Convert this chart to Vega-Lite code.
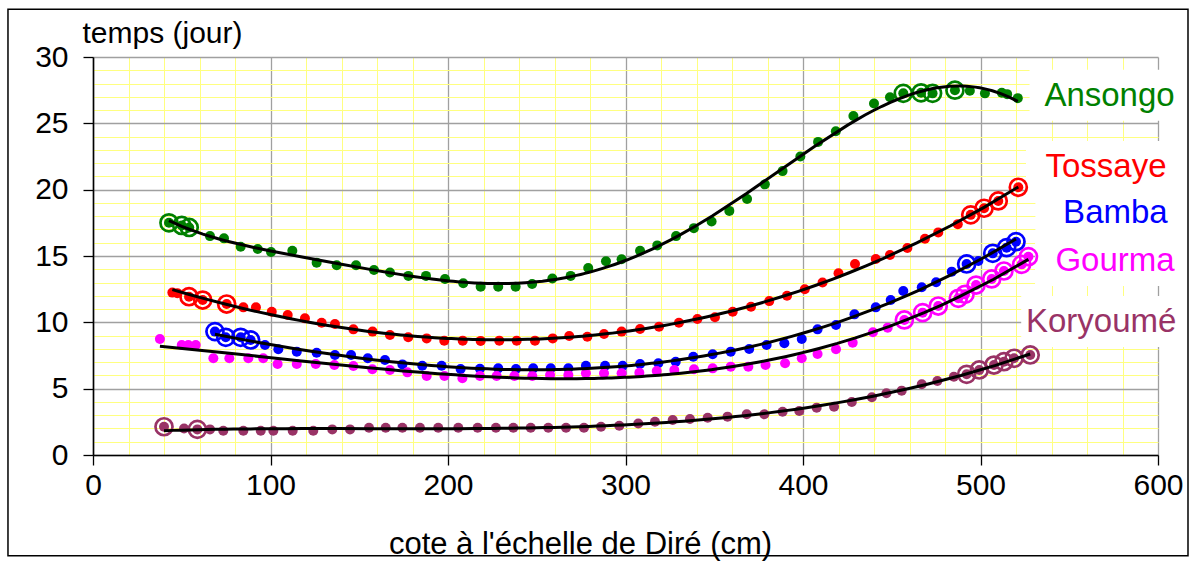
{
  "$schema": "https://vega.github.io/schema/vega-lite/v6.json",
  "width": 1065,
  "height": 398,
  "autosize": {"type": "none"},
  "padding": {"left": 93, "top": 57, "right": 37, "bottom": 108},
  "background": "white",
  "config": {
    "view": {"stroke": null},
    "font": "Liberation Sans",
    "text": {"font": "Liberation Sans"}
  },
  "data": {
    "values": [
      {"station": "Ansongo", "cote": 42.8, "temps": 17.5, "repere": true},
      {"station": "Ansongo", "cote": 50, "temps": 17.3, "repere": true},
      {"station": "Ansongo", "cote": 54.2, "temps": 17.15, "repere": true},
      {"station": "Ansongo", "cote": 65.9, "temps": 16.5, "repere": false},
      {"station": "Ansongo", "cote": 73.8, "temps": 16.33, "repere": false},
      {"station": "Ansongo", "cote": 83.2, "temps": 15.7, "repere": false},
      {"station": "Ansongo", "cote": 92.8, "temps": 15.53, "repere": false},
      {"station": "Ansongo", "cote": 100.3, "temps": 15.3, "repere": false},
      {"station": "Ansongo", "cote": 112.3, "temps": 15.4, "repere": false},
      {"station": "Ansongo", "cote": 126, "temps": 14.5, "repere": false},
      {"station": "Ansongo", "cote": 137.3, "temps": 14.3, "repere": false},
      {"station": "Ansongo", "cote": 148.2, "temps": 14.3, "repere": false},
      {"station": "Ansongo", "cote": 158.3, "temps": 13.95, "repere": false},
      {"station": "Ansongo", "cote": 167.3, "temps": 13.75, "repere": false},
      {"station": "Ansongo", "cote": 177.7, "temps": 13.5, "repere": false},
      {"station": "Ansongo", "cote": 187.6, "temps": 13.5, "repere": false},
      {"station": "Ansongo", "cote": 198.3, "temps": 13.27, "repere": false},
      {"station": "Ansongo", "cote": 208.6, "temps": 12.94, "repere": false},
      {"station": "Ansongo", "cote": 218.4, "temps": 12.69, "repere": false},
      {"station": "Ansongo", "cote": 228.3, "temps": 12.69, "repere": false},
      {"station": "Ansongo", "cote": 238.1, "temps": 12.69, "repere": false},
      {"station": "Ansongo", "cote": 247.4, "temps": 12.89, "repere": false},
      {"station": "Ansongo", "cote": 258.8, "temps": 13.3, "repere": false},
      {"station": "Ansongo", "cote": 269.1, "temps": 13.5, "repere": false},
      {"station": "Ansongo", "cote": 279, "temps": 14.1, "repere": false},
      {"station": "Ansongo", "cote": 289, "temps": 14.6, "repere": false},
      {"station": "Ansongo", "cote": 297.8, "temps": 14.75, "repere": false},
      {"station": "Ansongo", "cote": 308.2, "temps": 15.4, "repere": false},
      {"station": "Ansongo", "cote": 317.9, "temps": 15.8, "repere": false},
      {"station": "Ansongo", "cote": 328.5, "temps": 16.5, "repere": false},
      {"station": "Ansongo", "cote": 338.5, "temps": 17.1, "repere": false},
      {"station": "Ansongo", "cote": 348.5, "temps": 17.6, "repere": false},
      {"station": "Ansongo", "cote": 358.5, "temps": 18.4, "repere": false},
      {"station": "Ansongo", "cote": 368.5, "temps": 19.3, "repere": false},
      {"station": "Ansongo", "cote": 378.5, "temps": 20.4, "repere": false},
      {"station": "Ansongo", "cote": 388.5, "temps": 21.4, "repere": false},
      {"station": "Ansongo", "cote": 398.5, "temps": 22.5, "repere": false},
      {"station": "Ansongo", "cote": 408.5, "temps": 23.6, "repere": false},
      {"station": "Ansongo", "cote": 418.5, "temps": 24.4, "repere": false},
      {"station": "Ansongo", "cote": 428.4, "temps": 25.55, "repere": false},
      {"station": "Ansongo", "cote": 440, "temps": 26.5, "repere": false},
      {"station": "Ansongo", "cote": 449, "temps": 26.96, "repere": false},
      {"station": "Ansongo", "cote": 456.5, "temps": 27.26, "repere": true},
      {"station": "Ansongo", "cote": 466.5, "temps": 27.3, "repere": true},
      {"station": "Ansongo", "cote": 473, "temps": 27.26, "repere": true},
      {"station": "Ansongo", "cote": 485.6, "temps": 27.5, "repere": true},
      {"station": "Ansongo", "cote": 494, "temps": 27.46, "repere": false},
      {"station": "Ansongo", "cote": 502.5, "temps": 27.26, "repere": false},
      {"station": "Ansongo", "cote": 512, "temps": 27.3, "repere": false},
      {"station": "Ansongo", "cote": 515, "temps": 27.2, "repere": false},
      {"station": "Ansongo", "cote": 521, "temps": 26.9, "repere": false},

      {"station": "Tossaye", "cote": 44.7, "temps": 12.24, "repere": false},
      {"station": "Tossaye", "cote": 47.5, "temps": 12.2, "repere": false},
      {"station": "Tossaye", "cote": 54.1, "temps": 11.93, "repere": true},
      {"station": "Tossaye", "cote": 61.8, "temps": 11.68, "repere": true},
      {"station": "Tossaye", "cote": 75.3, "temps": 11.38, "repere": true},
      {"station": "Tossaye", "cote": 84.7, "temps": 11.13, "repere": false},
      {"station": "Tossaye", "cote": 91.8, "temps": 11.13, "repere": false},
      {"station": "Tossaye", "cote": 100.7, "temps": 10.8, "repere": false},
      {"station": "Tossaye", "cote": 109.7, "temps": 10.55, "repere": false},
      {"station": "Tossaye", "cote": 119.4, "temps": 10.3, "repere": false},
      {"station": "Tossaye", "cote": 128.8, "temps": 9.97, "repere": false},
      {"station": "Tossaye", "cote": 136.3, "temps": 9.87, "repere": false},
      {"station": "Tossaye", "cote": 146.7, "temps": 9.47, "repere": false},
      {"station": "Tossaye", "cote": 157.5, "temps": 9.3, "repere": false},
      {"station": "Tossaye", "cote": 167.3, "temps": 9.05, "repere": false},
      {"station": "Tossaye", "cote": 177.6, "temps": 8.87, "repere": false},
      {"station": "Tossaye", "cote": 188, "temps": 8.79, "repere": false},
      {"station": "Tossaye", "cote": 197.9, "temps": 8.62, "repere": false},
      {"station": "Tossaye", "cote": 208.3, "temps": 8.62, "repere": false},
      {"station": "Tossaye", "cote": 218.4, "temps": 8.6, "repere": false},
      {"station": "Tossaye", "cote": 228.9, "temps": 8.62, "repere": false},
      {"station": "Tossaye", "cote": 238.7, "temps": 8.62, "repere": false},
      {"station": "Tossaye", "cote": 249, "temps": 8.62, "repere": false},
      {"station": "Tossaye", "cote": 259, "temps": 8.79, "repere": false},
      {"station": "Tossaye", "cote": 268.3, "temps": 8.97, "repere": false},
      {"station": "Tossaye", "cote": 278.5, "temps": 8.92, "repere": false},
      {"station": "Tossaye", "cote": 287.9, "temps": 9.12, "repere": false},
      {"station": "Tossaye", "cote": 297.8, "temps": 9.3, "repere": false},
      {"station": "Tossaye", "cote": 308.2, "temps": 9.5, "repere": false},
      {"station": "Tossaye", "cote": 318.9, "temps": 9.67, "repere": false},
      {"station": "Tossaye", "cote": 330.1, "temps": 9.97, "repere": false},
      {"station": "Tossaye", "cote": 340.5, "temps": 10.25, "repere": false},
      {"station": "Tossaye", "cote": 350.4, "temps": 10.38, "repere": false},
      {"station": "Tossaye", "cote": 360.4, "temps": 10.8, "repere": false},
      {"station": "Tossaye", "cote": 370.7, "temps": 11.18, "repere": false},
      {"station": "Tossaye", "cote": 381, "temps": 11.6, "repere": false},
      {"station": "Tossaye", "cote": 391, "temps": 12.0, "repere": false},
      {"station": "Tossaye", "cote": 401, "temps": 12.5, "repere": false},
      {"station": "Tossaye", "cote": 411, "temps": 13.0, "repere": false},
      {"station": "Tossaye", "cote": 420, "temps": 13.7, "repere": false},
      {"station": "Tossaye", "cote": 429.3, "temps": 14.4, "repere": false},
      {"station": "Tossaye", "cote": 441, "temps": 14.77, "repere": false},
      {"station": "Tossaye", "cote": 449, "temps": 15.07, "repere": false},
      {"station": "Tossaye", "cote": 458.8, "temps": 15.6, "repere": false},
      {"station": "Tossaye", "cote": 468.7, "temps": 16.3, "repere": false},
      {"station": "Tossaye", "cote": 476.2, "temps": 16.78, "repere": false},
      {"station": "Tossaye", "cote": 487.2, "temps": 17.4, "repere": false},
      {"station": "Tossaye", "cote": 494.5, "temps": 18.1, "repere": true},
      {"station": "Tossaye", "cote": 502, "temps": 18.6, "repere": true},
      {"station": "Tossaye", "cote": 510, "temps": 19.15, "repere": true},
      {"station": "Tossaye", "cote": 521.3, "temps": 20.18, "repere": true},

      {"station": "Bamba", "cote": 68.7, "temps": 9.3, "repere": true},
      {"station": "Bamba", "cote": 74.8, "temps": 8.87, "repere": true},
      {"station": "Bamba", "cote": 83.2, "temps": 8.87, "repere": true},
      {"station": "Bamba", "cote": 88.8, "temps": 8.67, "repere": true},
      {"station": "Bamba", "cote": 96.9, "temps": 8.29, "repere": false},
      {"station": "Bamba", "cote": 104.4, "temps": 7.97, "repere": false},
      {"station": "Bamba", "cote": 114.8, "temps": 7.79, "repere": false},
      {"station": "Bamba", "cote": 126, "temps": 7.71, "repere": false},
      {"station": "Bamba", "cote": 136.3, "temps": 7.54, "repere": false},
      {"station": "Bamba", "cote": 145.4, "temps": 7.54, "repere": false},
      {"station": "Bamba", "cote": 154.8, "temps": 7.29, "repere": false},
      {"station": "Bamba", "cote": 164.5, "temps": 7.16, "repere": false},
      {"station": "Bamba", "cote": 174.3, "temps": 6.83, "repere": false},
      {"station": "Bamba", "cote": 185.5, "temps": 6.73, "repere": false},
      {"station": "Bamba", "cote": 196.4, "temps": 6.73, "repere": false},
      {"station": "Bamba", "cote": 207.1, "temps": 6.48, "repere": false},
      {"station": "Bamba", "cote": 218, "temps": 6.5, "repere": false},
      {"station": "Bamba", "cote": 228.3, "temps": 6.53, "repere": false},
      {"station": "Bamba", "cote": 238.3, "temps": 6.48, "repere": false},
      {"station": "Bamba", "cote": 248, "temps": 6.53, "repere": false},
      {"station": "Bamba", "cote": 257.9, "temps": 6.53, "repere": false},
      {"station": "Bamba", "cote": 267.8, "temps": 6.53, "repere": false},
      {"station": "Bamba", "cote": 277.7, "temps": 6.73, "repere": false},
      {"station": "Bamba", "cote": 288.5, "temps": 6.73, "repere": false},
      {"station": "Bamba", "cote": 298.4, "temps": 6.73, "repere": false},
      {"station": "Bamba", "cote": 308.2, "temps": 6.86, "repere": false},
      {"station": "Bamba", "cote": 318.5, "temps": 6.91, "repere": false},
      {"station": "Bamba", "cote": 328.3, "temps": 7.03, "repere": false},
      {"station": "Bamba", "cote": 338.2, "temps": 7.41, "repere": false},
      {"station": "Bamba", "cote": 349.1, "temps": 7.59, "repere": false},
      {"station": "Bamba", "cote": 359.3, "temps": 7.79, "repere": false},
      {"station": "Bamba", "cote": 369.7, "temps": 7.99, "repere": false},
      {"station": "Bamba", "cote": 379.5, "temps": 8.29, "repere": false},
      {"station": "Bamba", "cote": 389.5, "temps": 8.42, "repere": false},
      {"station": "Bamba", "cote": 399.3, "temps": 8.74, "repere": false},
      {"station": "Bamba", "cote": 408.2, "temps": 9.47, "repere": false},
      {"station": "Bamba", "cote": 418.6, "temps": 9.8, "repere": false},
      {"station": "Bamba", "cote": 429, "temps": 10.6, "repere": false},
      {"station": "Bamba", "cote": 441, "temps": 11.13, "repere": false},
      {"station": "Bamba", "cote": 449.4, "temps": 11.68, "repere": false},
      {"station": "Bamba", "cote": 456.5, "temps": 12.36, "repere": false},
      {"station": "Bamba", "cote": 466.9, "temps": 12.64, "repere": false},
      {"station": "Bamba", "cote": 475, "temps": 13.02, "repere": false},
      {"station": "Bamba", "cote": 483.8, "temps": 13.82, "repere": false},
      {"station": "Bamba", "cote": 492.2, "temps": 14.4, "repere": true},
      {"station": "Bamba", "cote": 498.8, "temps": 14.62, "repere": false},
      {"station": "Bamba", "cote": 506.9, "temps": 15.2, "repere": true},
      {"station": "Bamba", "cote": 514.7, "temps": 15.63, "repere": true},
      {"station": "Bamba", "cote": 520, "temps": 16.08, "repere": true},

      {"station": "Gourma", "cote": 37.7, "temps": 8.74, "repere": false},
      {"station": "Gourma", "cote": 50, "temps": 8.29, "repere": false},
      {"station": "Gourma", "cote": 53.7, "temps": 8.29, "repere": false},
      {"station": "Gourma", "cote": 57.9, "temps": 8.29, "repere": false},
      {"station": "Gourma", "cote": 67.8, "temps": 7.29, "repere": false},
      {"station": "Gourma", "cote": 76.8, "temps": 7.29, "repere": false},
      {"station": "Gourma", "cote": 87.5, "temps": 7.29, "repere": false},
      {"station": "Gourma", "cote": 95.9, "temps": 7.29, "repere": false},
      {"station": "Gourma", "cote": 104, "temps": 6.86, "repere": false},
      {"station": "Gourma", "cote": 114.8, "temps": 6.86, "repere": false},
      {"station": "Gourma", "cote": 125.5, "temps": 6.86, "repere": false},
      {"station": "Gourma", "cote": 136, "temps": 6.78, "repere": false},
      {"station": "Gourma", "cote": 146.7, "temps": 6.71, "repere": false},
      {"station": "Gourma", "cote": 157.4, "temps": 6.46, "repere": false},
      {"station": "Gourma", "cote": 167.3, "temps": 6.41, "repere": false},
      {"station": "Gourma", "cote": 177.1, "temps": 6.23, "repere": false},
      {"station": "Gourma", "cote": 188, "temps": 5.95, "repere": false},
      {"station": "Gourma", "cote": 198, "temps": 5.95, "repere": false},
      {"station": "Gourma", "cote": 208.1, "temps": 5.78, "repere": false},
      {"station": "Gourma", "cote": 218, "temps": 5.95, "repere": false},
      {"station": "Gourma", "cote": 227.4, "temps": 5.95, "repere": false},
      {"station": "Gourma", "cote": 237.4, "temps": 5.95, "repere": false},
      {"station": "Gourma", "cote": 247.5, "temps": 5.95, "repere": false},
      {"station": "Gourma", "cote": 257.5, "temps": 6.03, "repere": false},
      {"station": "Gourma", "cote": 267.8, "temps": 6.03, "repere": false},
      {"station": "Gourma", "cote": 277.7, "temps": 6.16, "repere": false},
      {"station": "Gourma", "cote": 287.9, "temps": 6.16, "repere": false},
      {"station": "Gourma", "cote": 297.8, "temps": 6.16, "repere": false},
      {"station": "Gourma", "cote": 307.8, "temps": 6.2, "repere": false},
      {"station": "Gourma", "cote": 317.6, "temps": 6.33, "repere": false},
      {"station": "Gourma", "cote": 327.5, "temps": 6.41, "repere": false},
      {"station": "Gourma", "cote": 338.6, "temps": 6.46, "repere": false},
      {"station": "Gourma", "cote": 349.1, "temps": 6.53, "repere": false},
      {"station": "Gourma", "cote": 359.3, "temps": 6.66, "repere": false},
      {"station": "Gourma", "cote": 369.2, "temps": 6.66, "repere": false},
      {"station": "Gourma", "cote": 378.9, "temps": 6.78, "repere": false},
      {"station": "Gourma", "cote": 389.9, "temps": 6.91, "repere": false},
      {"station": "Gourma", "cote": 399.3, "temps": 7.29, "repere": false},
      {"station": "Gourma", "cote": 408.2, "temps": 7.61, "repere": false},
      {"station": "Gourma", "cote": 418.6, "temps": 7.97, "repere": false},
      {"station": "Gourma", "cote": 428, "temps": 8.47, "repere": false},
      {"station": "Gourma", "cote": 439.4, "temps": 9.25, "repere": false},
      {"station": "Gourma", "cote": 447.7, "temps": 9.6, "repere": false},
      {"station": "Gourma", "cote": 457.1, "temps": 10.18, "repere": true},
      {"station": "Gourma", "cote": 467.4, "temps": 10.73, "repere": true},
      {"station": "Gourma", "cote": 476.2, "temps": 11.23, "repere": true},
      {"station": "Gourma", "cote": 487.5, "temps": 11.81, "repere": true},
      {"station": "Gourma", "cote": 491.3, "temps": 12.11, "repere": true},
      {"station": "Gourma", "cote": 497.5, "temps": 12.81, "repere": true},
      {"station": "Gourma", "cote": 506.3, "temps": 13.27, "repere": true},
      {"station": "Gourma", "cote": 513.2, "temps": 13.87, "repere": true},
      {"station": "Gourma", "cote": 523.2, "temps": 14.37, "repere": true},
      {"station": "Gourma", "cote": 527, "temps": 14.95, "repere": true},

      {"station": "Koryoumé", "cote": 40, "temps": 2.13, "repere": true},
      {"station": "Koryoumé", "cote": 51.3, "temps": 2.0, "repere": false},
      {"station": "Koryoumé", "cote": 58.8, "temps": 1.93, "repere": true},
      {"station": "Koryoumé", "cote": 65.9, "temps": 1.93, "repere": false},
      {"station": "Koryoumé", "cote": 73.4, "temps": 1.83, "repere": false},
      {"station": "Koryoumé", "cote": 84.7, "temps": 1.83, "repere": false},
      {"station": "Koryoumé", "cote": 94.5, "temps": 1.83, "repere": false},
      {"station": "Koryoumé", "cote": 101.6, "temps": 1.83, "repere": false},
      {"station": "Koryoumé", "cote": 112.5, "temps": 1.83, "repere": false},
      {"station": "Koryoumé", "cote": 124.1, "temps": 1.83, "repere": false},
      {"station": "Koryoumé", "cote": 134.8, "temps": 1.93, "repere": false},
      {"station": "Koryoumé", "cote": 144.8, "temps": 1.93, "repere": false},
      {"station": "Koryoumé", "cote": 155.5, "temps": 2.06, "repere": false},
      {"station": "Koryoumé", "cote": 164.9, "temps": 2.06, "repere": false},
      {"station": "Koryoumé", "cote": 174.3, "temps": 2.06, "repere": false},
      {"station": "Koryoumé", "cote": 184.2, "temps": 2.06, "repere": false},
      {"station": "Koryoumé", "cote": 194.5, "temps": 2.06, "repere": false},
      {"station": "Koryoumé", "cote": 205.8, "temps": 2.06, "repere": false},
      {"station": "Koryoumé", "cote": 216.7, "temps": 2.06, "repere": false},
      {"station": "Koryoumé", "cote": 227, "temps": 2.06, "repere": false},
      {"station": "Koryoumé", "cote": 236.8, "temps": 2.06, "repere": false},
      {"station": "Koryoumé", "cote": 246.6, "temps": 2.06, "repere": false},
      {"station": "Koryoumé", "cote": 256.5, "temps": 2.06, "repere": false},
      {"station": "Koryoumé", "cote": 266.5, "temps": 2.06, "repere": false},
      {"station": "Koryoumé", "cote": 276.6, "temps": 2.06, "repere": false},
      {"station": "Koryoumé", "cote": 286.2, "temps": 2.13, "repere": false},
      {"station": "Koryoumé", "cote": 296.5, "temps": 2.21, "repere": false},
      {"station": "Koryoumé", "cote": 307.2, "temps": 2.38, "repere": false},
      {"station": "Koryoumé", "cote": 316.6, "temps": 2.51, "repere": false},
      {"station": "Koryoumé", "cote": 326.6, "temps": 2.64, "repere": false},
      {"station": "Koryoumé", "cote": 336.3, "temps": 2.71, "repere": false},
      {"station": "Koryoumé", "cote": 346.3, "temps": 2.81, "repere": false},
      {"station": "Koryoumé", "cote": 357.5, "temps": 2.89, "repere": false},
      {"station": "Koryoumé", "cote": 368.3, "temps": 3.07, "repere": false},
      {"station": "Koryoumé", "cote": 378.2, "temps": 3.07, "repere": false},
      {"station": "Koryoumé", "cote": 388.5, "temps": 3.26, "repere": false},
      {"station": "Koryoumé", "cote": 397.9, "temps": 3.32, "repere": false},
      {"station": "Koryoumé", "cote": 407.7, "temps": 3.57, "repere": false},
      {"station": "Koryoumé", "cote": 417.5, "temps": 3.64, "repere": false},
      {"station": "Koryoumé", "cote": 427.5, "temps": 4.0, "repere": false},
      {"station": "Koryoumé", "cote": 438.8, "temps": 4.35, "repere": false},
      {"station": "Koryoumé", "cote": 447, "temps": 4.65, "repere": false},
      {"station": "Koryoumé", "cote": 455.6, "temps": 4.85, "repere": false},
      {"station": "Koryoumé", "cote": 466.9, "temps": 5.33, "repere": false},
      {"station": "Koryoumé", "cote": 475.7, "temps": 5.58, "repere": false},
      {"station": "Koryoumé", "cote": 485, "temps": 5.9, "repere": false},
      {"station": "Koryoumé", "cote": 492.2, "temps": 6.08, "repere": true},
      {"station": "Koryoumé", "cote": 499.3, "temps": 6.41, "repere": true},
      {"station": "Koryoumé", "cote": 507.6, "temps": 6.78, "repere": true},
      {"station": "Koryoumé", "cote": 513.2, "temps": 7.03, "repere": true},
      {"station": "Koryoumé", "cote": 518.9, "temps": 7.29, "repere": true},
      {"station": "Koryoumé", "cote": 528, "temps": 7.54, "repere": true}
    ]
  },
  "resolve": {"axis": {"x": "independent", "y": "independent"}},
  "layer": [
    {
      "description": "Light yellow minor grid: every 20 cm and every day",
      "mark": {"type": "circle", "opacity": 0},
      "encoding": {
        "x": {
          "field": "cote", "type": "quantitative",
          "scale": {"domain": [0, 600], "nice": false},
          "axis": {
            "orient": "bottom", "title": null, "labels": false, "ticks": false, "domain": false,
            "grid": true, "gridColor": "#FFFF80", "gridWidth": 1,
            "values": [20, 40, 60, 80, 120, 140, 160, 180, 220, 240, 260, 280, 320, 340, 360, 380, 420, 440, 460, 480, 520, 540, 560, 580]
          }
        },
        "y": {
          "field": "temps", "type": "quantitative",
          "scale": {"domain": [0, 30], "nice": false},
          "axis": {
            "orient": "left", "title": null, "labels": false, "ticks": false, "domain": false,
            "grid": true, "gridColor": "#FFFF80", "gridWidth": 1,
            "values": [1, 2, 3, 4, 6, 7, 8, 9, 11, 12, 13, 14, 16, 17, 18, 19, 21, 22, 23, 24, 26, 27, 28, 29]
          }
        }
      }
    },
    {
      "description": "Main axes with grey grid",
      "mark": {"type": "circle", "opacity": 0},
      "encoding": {
        "x": {
          "field": "cote", "type": "quantitative",
          "scale": {"domain": [0, 600], "nice": false},
          "axis": {
            "orient": "bottom",
            "values": [0, 100, 200, 300, 400, 500, 600],
            "grid": true, "gridColor": "#A0A0A0", "gridWidth": 1.3,
            "domain": true, "domainColor": "#000000", "domainWidth": 1.6,
            "ticks": true, "tickColor": "#000000", "tickSize": 10, "tickWidth": 1.3,
            "labelFont": "Liberation Sans", "labelFontSize": 30, "labelColor": "#000000",
            "labelPadding": 5, "labelFlush": false, "labelOverlap": false,
            "title": "cote à l'échelle de Diré (cm)",
            "titleFont": "Liberation Sans", "titleFontSize": 31, "titleFontWeight": "normal",
            "titleColor": "#000000", "titleAnchor": null, "titleAlign": "center",
            "titleBaseline": "alphabetic", "titleX": 487, "titleY": 98
          }
        },
        "y": {
          "field": "temps", "type": "quantitative",
          "scale": {"domain": [0, 30], "nice": false},
          "axis": {
            "orient": "left",
            "values": [0, 5, 10, 15, 20, 25, 30],
            "grid": true, "gridColor": "#A0A0A0", "gridWidth": 1.3,
            "domain": true, "domainColor": "#000000", "domainWidth": 1.6,
            "ticks": true, "tickColor": "#000000", "tickSize": 10, "tickWidth": 1.3,
            "labelFont": "Liberation Sans", "labelFontSize": 30, "labelColor": "#000000",
            "labelPadding": 15, "labelFlush": false, "labelOverlap": false,
            "title": "temps (jour)",
            "titleFont": "Liberation Sans", "titleFontSize": 30, "titleFontWeight": "normal",
            "titleColor": "#000000", "titleAngle": 0, "titleAlign": "left",
            "titleBaseline": "alphabetic", "titleX": -11, "titleY": -15
          }
        }
      }
    },
    {
      "description": "Outer frame of the chart",
      "data": {"values": [{}]},
      "mark": {"type": "rect", "fill": null, "stroke": "#000000", "strokeWidth": 1.5, "clip": false},
      "encoding": {
        "x": {"datum": -47.9, "type": "quantitative", "scale": {"domain": [0, 600], "nice": false}, "axis": null},
        "x2": {"datum": 616.9},
        "y": {"datum": 33.6, "type": "quantitative", "scale": {"domain": [0, 30], "nice": false}, "axis": null},
        "y2": {"datum": -7.6}
      }
    },
    {
      "description": "White boxes behind the station names",
      "data": {"values": [{"station": "Ansongo", "nx": 572.7, "ny": 26.33}, {"station": "Tossaye", "nx": 570.7, "ny": 20.95}, {"station": "Bamba", "nx": 576, "ny": 17.46}, {"station": "Gourma", "nx": 575.8, "ny": 13.87}, {"station": "Koryoumé", "nx": 568, "ny": 9.27}]},
      "mark": {"type": "rect", "fill": "#FFFFFF", "stroke": null, "clip": false, "xOffset": -80, "x2Offset": 70, "yOffset": -36, "y2Offset": 15},
      "encoding": {
        "x": {"field": "nx", "type": "quantitative", "scale": {"domain": [0, 600], "nice": false}, "axis": null},
        "x2": {"field": "nx"},
        "y": {"field": "ny", "type": "quantitative", "scale": {"domain": [0, 30], "nice": false}, "axis": null},
        "y2": {"field": "ny"}
      }
    },
    {
      "description": "Station names",
      "data": {"values": [{"station": "Ansongo", "nx": 572.7, "ny": 26.33}, {"station": "Tossaye", "nx": 570.7, "ny": 20.95}, {"station": "Bamba", "nx": 576, "ny": 17.46}, {"station": "Gourma", "nx": 575.8, "ny": 13.87}, {"station": "Koryoumé", "nx": 568, "ny": 9.27}]},
      "mark": {"type": "text", "font": "Liberation Sans", "fontSize": 33, "align": "center", "baseline": "alphabetic", "clip": false},
      "encoding": {
        "x": {"field": "nx", "type": "quantitative", "scale": {"domain": [0, 600], "nice": false}, "axis": null},
        "y": {"field": "ny", "type": "quantitative", "scale": {"domain": [0, 30], "nice": false}, "axis": null},
        "text": {"field": "station"},
        "color": {
          "field": "station", "type": "nominal", "legend": null,
          "scale": {"domain": ["Ansongo", "Tossaye", "Bamba", "Gourma", "Koryoumé"], "range": ["#008000", "#FF0000", "#0000FF", "#FF00FF", "#993366"]}
        }
      }
    },
    {
      "description": "Observed points",
      "layer": [
        {
          "mark": {"type": "circle", "size": 100, "opacity": 1},
          "encoding": {
            "x": {"field": "cote", "type": "quantitative", "scale": {"domain": [0, 600], "nice": false}, "axis": null},
            "y": {"field": "temps", "type": "quantitative", "scale": {"domain": [0, 30], "nice": false}, "axis": null},
            "color": {
              "field": "station", "type": "nominal", "legend": null,
              "scale": {"domain": ["Ansongo", "Tossaye", "Bamba", "Gourma", "Koryoumé"], "range": ["#339966", "#FF0000", "#0000FF", "#FF00FF", "#993366"]}
            }
          }
        },
        {
          "transform": [{"filter": "datum.repere"}],
          "mark": {"type": "point", "shape": "circle", "filled": false, "size": 290, "strokeWidth": 2.7, "opacity": 1},
          "encoding": {
            "x": {"field": "cote", "type": "quantitative", "scale": {"domain": [0, 600], "nice": false}, "axis": null},
            "y": {"field": "temps", "type": "quantitative", "scale": {"domain": [0, 30], "nice": false}, "axis": null},
            "color": {
              "field": "station", "type": "nominal", "legend": null,
              "scale": {"domain": ["Ansongo", "Tossaye", "Bamba", "Gourma", "Koryoumé"], "range": ["#339966", "#FF0000", "#0000FF", "#FF00FF", "#993366"]}
            }
          }
        }
      ]
    },
    {
      "description": "Polynomial trend for Ansongo",
      "transform": [
        {"filter": "datum.station === 'Ansongo'"},
        {"regression": "temps", "on": "cote", "method": "poly", "order": 6}
      ],
      "mark": {"type": "line", "color": "#000000", "strokeWidth": 3},
      "encoding": {
        "x": {"field": "cote", "type": "quantitative", "scale": {"domain": [0, 600], "nice": false}, "axis": null},
        "y": {"field": "temps", "type": "quantitative", "scale": {"domain": [0, 30], "nice": false}, "axis": null}
      }
    },
    {
      "description": "Polynomial trends for the other stations",
      "transform": [
        {"filter": "datum.station !== 'Ansongo'"},
        {"regression": "temps", "on": "cote", "groupby": ["station"], "method": "poly", "order": 3}
      ],
      "mark": {"type": "line", "color": "#000000", "strokeWidth": 3},
      "encoding": {
        "x": {"field": "cote", "type": "quantitative", "scale": {"domain": [0, 600], "nice": false}, "axis": null},
        "y": {"field": "temps", "type": "quantitative", "scale": {"domain": [0, 30], "nice": false}, "axis": null},
        "detail": {"field": "station"}
      }
    }
  ]
}
